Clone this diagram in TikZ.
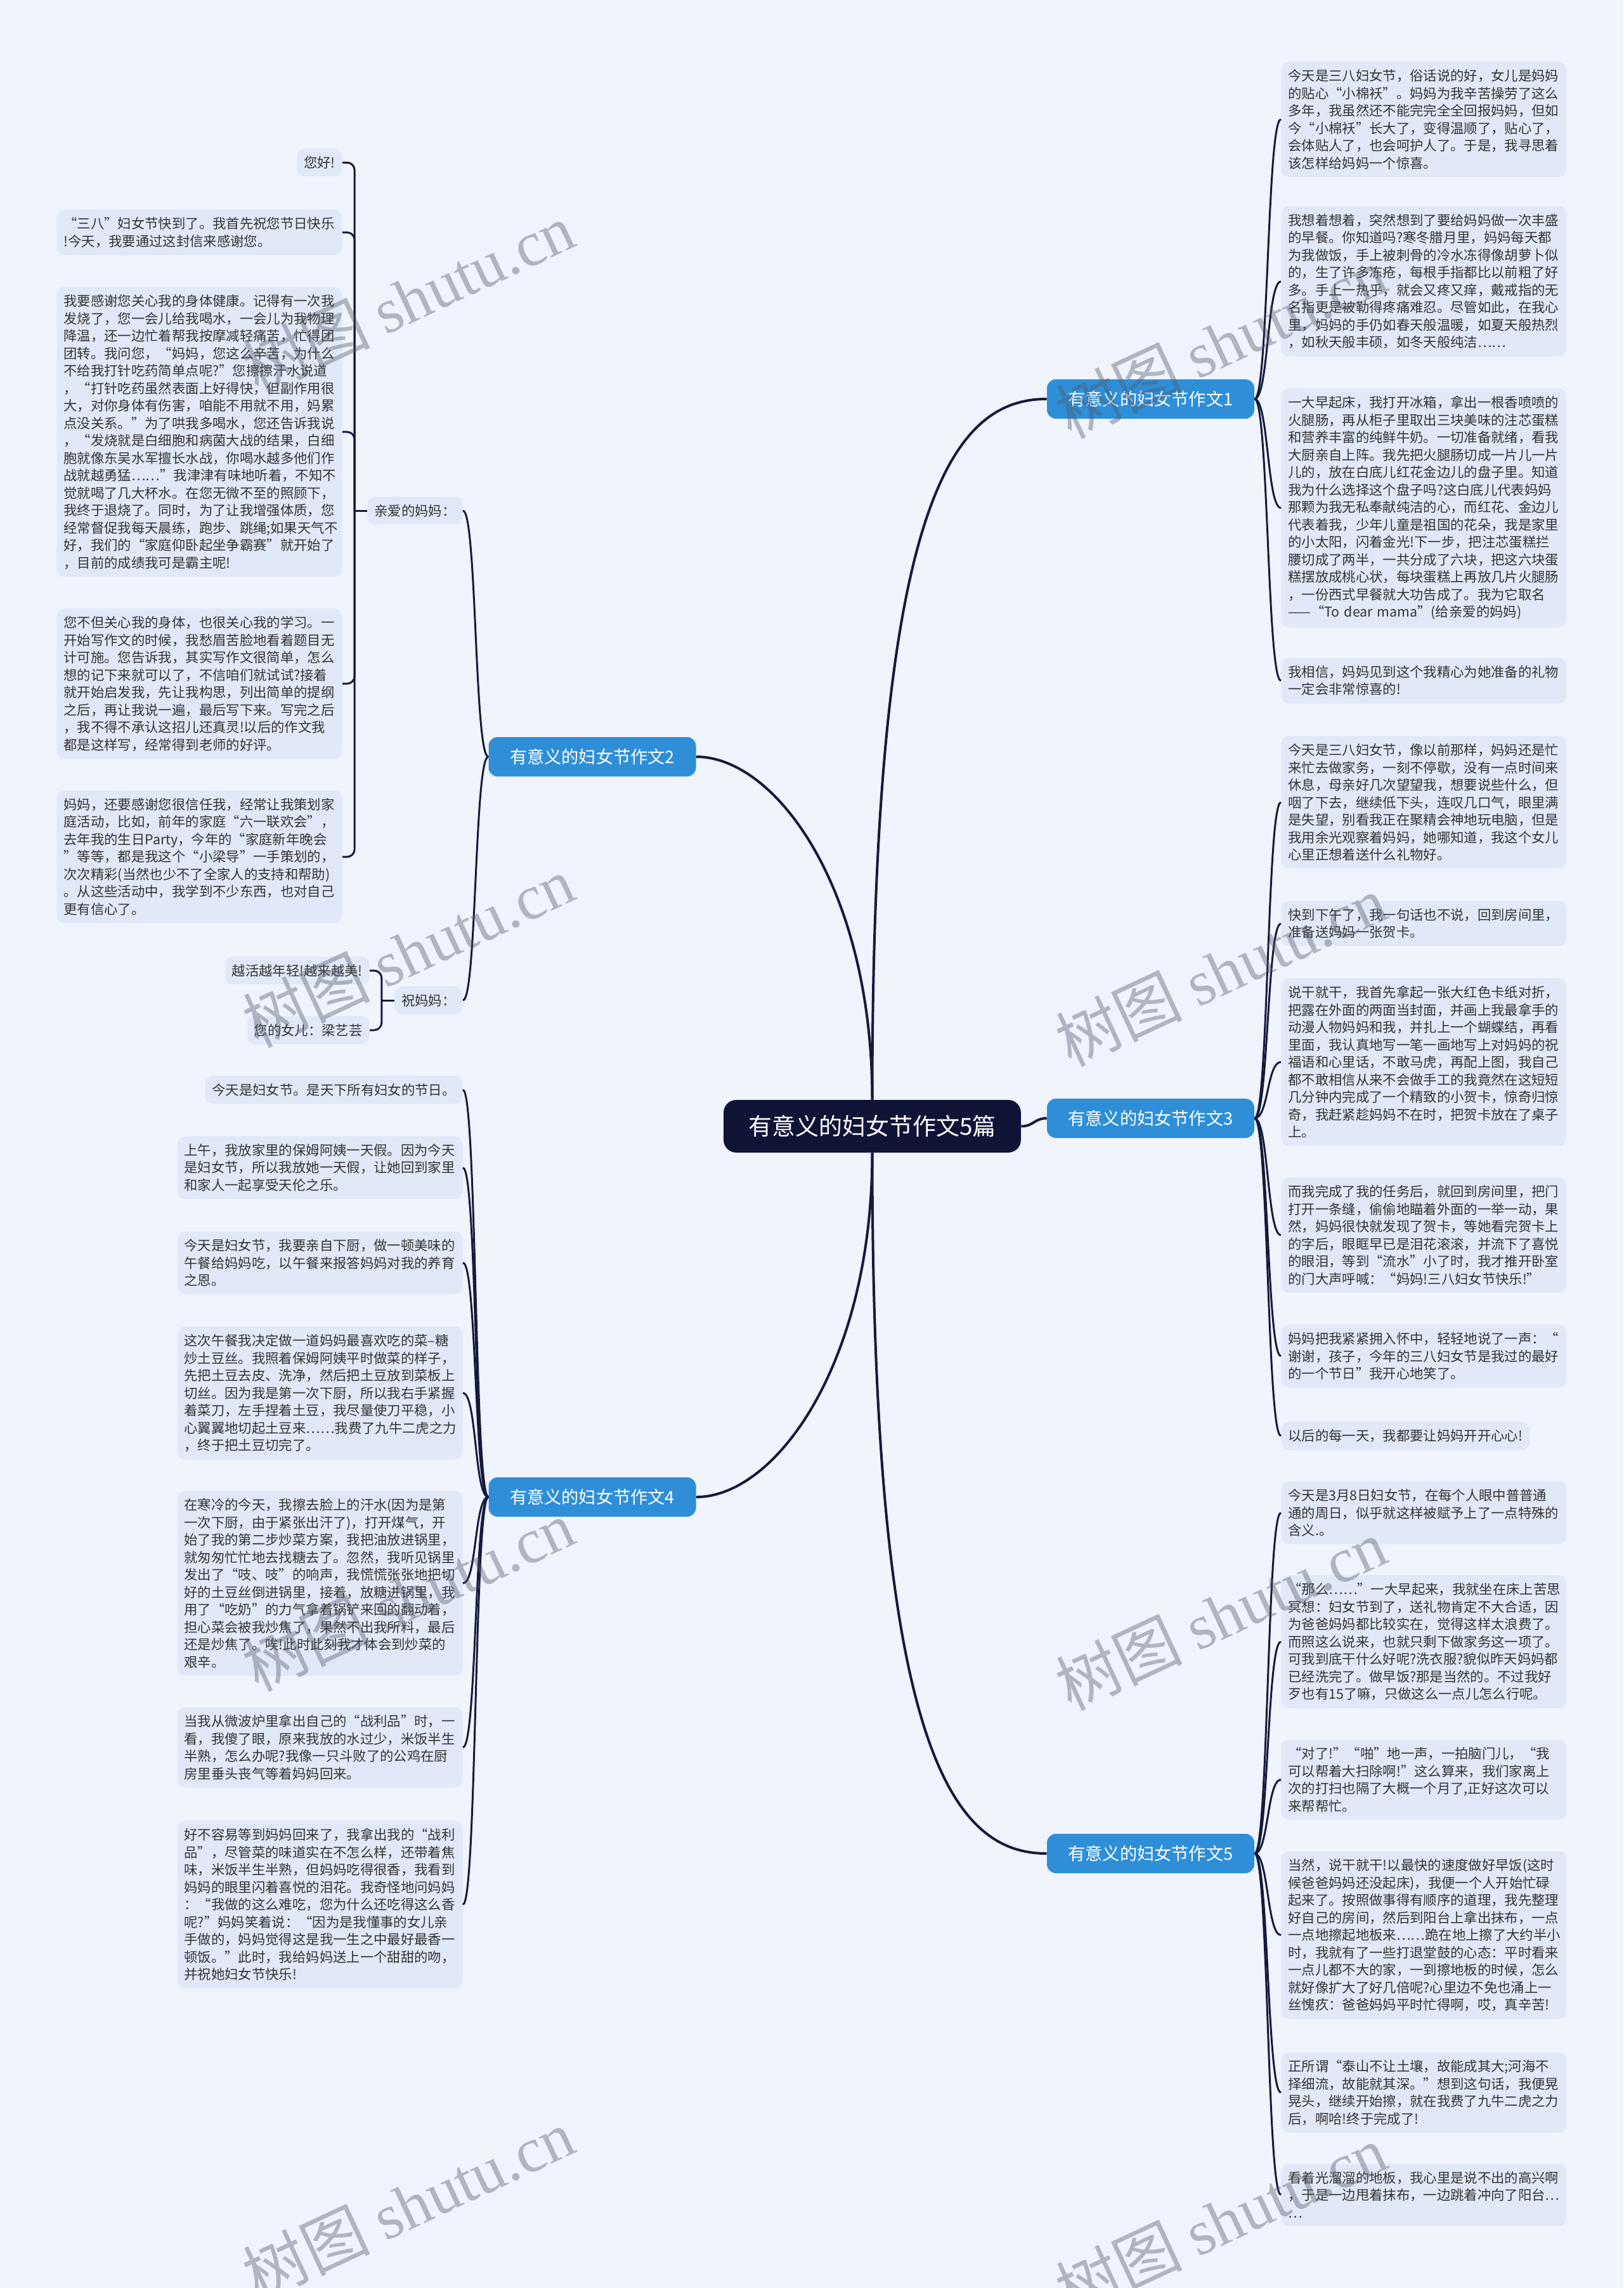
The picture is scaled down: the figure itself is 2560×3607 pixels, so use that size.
\documentclass[tikz,border=0pt]{standalone}
\usepackage{fontspec}
\setmainfont{Noto Sans CJK SC}
\newfontfamily\wmserif{Liberation Serif}
\definecolor{bgc}{HTML}{EFF4FD}
\definecolor{leafc}{HTML}{E1E9F8}
\definecolor{brc}{HTML}{2E8FD8}
\definecolor{rootc}{HTML}{0F1437}
\definecolor{linec}{HTML}{161A3C}
\definecolor{txtc}{HTML}{333333}
\definecolor{wmc}{HTML}{535868}
\tikzset{
  leaf/.style={fill=leafc, text=txtc, rounded corners=6pt, inner xsep=5.5pt, inner ysep=6pt, font=\fontsize{10.67}{13.75}\selectfont},
  para/.style={leaf, text width=214pt, align=left},
  branch/.style={fill=brc, text=white, rounded corners=7pt, minimum width=163.5pt, minimum height=31pt, inner sep=0pt, font=\fontsize{13.6}{16}\selectfont},
  root/.style={fill=rootc, text=white, rounded corners=10pt, minimum width=234.5pt, minimum height=41.5pt, inner sep=0pt, font=\fontsize{18.5}{22}\selectfont},
  conn/.style={draw=linec, line width=1.5pt},
  mainconn/.style={draw=linec, line width=2pt},
  wm/.style={text=wmc, opacity=0.4, rotate=25, font=\fontsize{50}{60}\selectfont}
}
\begin{document}
\begin{tikzpicture}[x=0.5pt, y=-0.5pt]
\useasboundingbox (0,0) rectangle (2560,3607);
\fill[bgc] (0,0) rectangle (2560,3607);

% root and branches
\node[root] (c) at (1375.5,1775.5) {有意义的妇女节作文5篇};
\node[branch] (b1) at (1814.5,629) {有意义的妇女节作文1};
\node[branch] (b3) at (1814.5,1763) {有意义的妇女节作文3};
\node[branch] (b5) at (1814.5,2922) {有意义的妇女节作文5};
\node[branch] (b2) at (934,1193) {有意义的妇女节作文2};
\node[branch] (b4) at (934,2360) {有意义的妇女节作文4};

% branch 1 leaves
\node[para, anchor=north west] (r1a) at (2020,97) {今天是三八妇女节，俗话说的好，女儿是妈妈\\的贴心“小棉袄”。妈妈为我辛苦操劳了这么\\多年，我虽然还不能完完全全回报妈妈，但如\\今“小棉袄”长大了，变得温顺了，贴心了，\\会体贴人了，也会呵护人了。于是，我寻思着\\该怎样给妈妈一个惊喜。};
\node[para, anchor=north west] (r1b) at (2020,325) {我想着想着，突然想到了要给妈妈做一次丰盛\\的早餐。你知道吗?寒冬腊月里，妈妈每天都\\为我做饭，手上被刺骨的冷水冻得像胡萝卜似\\的，生了许多冻疮，每根手指都比以前粗了好\\多。手上一热乎，就会又疼又痒，戴戒指的无\\名指更是被勒得疼痛难忍。尽管如此，在我心\\里，妈妈的手仍如春天般温暖，如夏天般热烈\\，如秋天般丰硕，如冬天般纯洁……};
\node[para, anchor=north west] (r1c) at (2020,612) {一大早起床，我打开冰箱，拿出一根香喷喷的\\火腿肠，再从柜子里取出三块美味的注芯蛋糕\\和营养丰富的纯鲜牛奶。一切准备就绪，看我\\大厨亲自上阵。我先把火腿肠切成一片儿一片\\儿的，放在白底儿红花金边儿的盘子里。知道\\我为什么选择这个盘子吗?这白底儿代表妈妈\\那颗为我无私奉献纯洁的心，而红花、金边儿\\代表着我，少年儿童是祖国的花朵，我是家里\\的小太阳，闪着金光!下一步，把注芯蛋糕拦\\腰切成了两半，一共分成了六块，把这六块蛋\\糕摆放成桃心状，每块蛋糕上再放几片火腿肠\\，一份西式早餐就大功告成了。我为它取名\\——“To dear mama”(给亲爱的妈妈)};
\node[para, anchor=north west] (r1d) at (2020,1037) {我相信，妈妈见到这个我精心为她准备的礼物\\一定会非常惊喜的!};

% branch 3 leaves
\node[para, anchor=north west] (r3a) at (2020,1160) {今天是三八妇女节，像以前那样，妈妈还是忙\\来忙去做家务，一刻不停歇，没有一点时间来\\休息，母亲好几次望望我，想要说些什么，但\\咽了下去，继续低下头，连叹几口气，眼里满\\是失望，别看我正在聚精会神地玩电脑，但是\\我用余光观察着妈妈，她哪知道，我这个女儿\\心里正想着送什么礼物好。};
\node[para, anchor=north west] (r3b) at (2020,1420) {快到下午了，我一句话也不说，回到房间里，\\准备送妈妈一张贺卡。};
\node[para, anchor=north west] (r3c) at (2020,1542) {说干就干，我首先拿起一张大红色卡纸对折，\\把露在外面的两面当封面，并画上我最拿手的\\动漫人物妈妈和我，并扎上一个蝴蝶结，再看\\里面，我认真地写一笔一画地写上对妈妈的祝\\福语和心里话，不敢马虎，再配上图，我自己\\都不敢相信从来不会做手工的我竟然在这短短\\几分钟内完成了一个精致的小贺卡，惊奇归惊\\奇，我赶紧趁妈妈不在时，把贺卡放在了桌子\\上。};
\node[para, anchor=north west] (r3d) at (2020,1856) {而我完成了我的任务后，就回到房间里，把门\\打开一条缝，偷偷地瞄着外面的一举一动，果\\然，妈妈很快就发现了贺卡，等她看完贺卡上\\的字后，眼眶早已是泪花滚滚，并流下了喜悦\\的眼泪，等到“流水”小了时，我才推开卧室\\的门大声呼喊：“妈妈!三八妇女节快乐!”};
\node[para, anchor=north west] (r3e) at (2020,2088) {妈妈把我紧紧拥入怀中，轻轻地说了一声：“\\谢谢，孩子，今年的三八妇女节是我过的最好\\的一个节日”我开心地笑了。};
\node[leaf, anchor=north west] (r3f) at (2020,2241) {以后的每一天，我都要让妈妈开开心心!};

% branch 5 leaves
\node[para, anchor=north west] (r5a) at (2020,2335) {今天是3月8日妇女节，在每个人眼中普普通\\通的周日，似乎就这样被赋予上了一点特殊的\\含义.。};
\node[para, anchor=north west] (r5b) at (2020,2483) {“那么……”一大早起来，我就坐在床上苦思\\冥想：妇女节到了，送礼物肯定不大合适，因\\为爸爸妈妈都比较实在，觉得这样太浪费了。\\而照这么说来，也就只剩下做家务这一项了。\\可我到底干什么好呢?洗衣服?貌似昨天妈妈都\\已经洗完了。做早饭?那是当然的。不过我好\\歹也有15了嘛，只做这么一点儿怎么行呢。};
\node[para, anchor=north west] (r5c) at (2020,2742) {“对了!”“啪”地一声，一拍脑门儿，“我\\可以帮着大扫除啊!”这么算来，我们家离上\\次的打扫也隔了大概一个月了,正好这次可以\\来帮帮忙。};
\node[para, anchor=north west] (r5d) at (2020,2918) {当然，说干就干!以最快的速度做好早饭(这时\\候爸爸妈妈还没起床)，我便一个人开始忙碌\\起来了。按照做事得有顺序的道理，我先整理\\好自己的房间，然后到阳台上拿出抹布，一点\\一点地擦起地板来……跪在地上擦了大约半小\\时，我就有了一些打退堂鼓的心态：平时看来\\一点儿都不大的家，一到擦地板的时候，怎么\\就好像扩大了好几倍呢?心里边不免也涌上一\\丝愧疚：爸爸妈妈平时忙得啊，哎，真辛苦!};
\node[para, anchor=north west] (r5e) at (2020,3235) {正所谓“泰山不让土壤，故能成其大;河海不\\择细流，故能就其深。”想到这句话，我便晃\\晃头，继续开始擦，就在我费了九牛二虎之力\\后，啊哈!终于完成了!};
\node[para, anchor=north west] (r5f) at (2020,3411) {看着光溜溜的地板，我心里是说不出的高兴啊\\，于是一边甩着抹布，一边跳着冲向了阳台…\\…};

% branch 2 subtree
\node[leaf, anchor=east] (qin) at (730,805) {亲爱的妈妈：};
\node[leaf, anchor=east] (zhu) at (730,1577) {祝妈妈：};
\node[leaf, anchor=north east] (l1) at (540,234) {您好!};
\node[para, anchor=north east] (l2) at (540,330) {“三八”妇女节快到了。我首先祝您节日快乐\\!今天，我要通过这封信来感谢您。};
\node[para, anchor=north east] (l3) at (540,452) {我要感谢您关心我的身体健康。记得有一次我\\发烧了，您一会儿给我喝水，一会儿为我物理\\降温，还一边忙着帮我按摩减轻痛苦，忙得团\\团转。我问您，“妈妈，您这么辛苦，为什么\\不给我打针吃药简单点呢?”您擦擦汗水说道\\，“打针吃药虽然表面上好得快，但副作用很\\大，对你身体有伤害，咱能不用就不用，妈累\\点没关系。”为了哄我多喝水，您还告诉我说\\，“发烧就是白细胞和病菌大战的结果，白细\\胞就像东吴水军擅长水战，你喝水越多他们作\\战就越勇猛……”我津津有味地听着，不知不\\觉就喝了几大杯水。在您无微不至的照顾下，\\我终于退烧了。同时，为了让我增强体质，您\\经常督促我每天晨练，跑步、跳绳;如果天气不\\好，我们的“家庭仰卧起坐争霸赛”就开始了\\，目前的成绩我可是霸主呢!};
\node[para, anchor=north east] (l4) at (540,959) {您不但关心我的身体，也很关心我的学习。一\\开始写作文的时候，我愁眉苦脸地看着题目无\\计可施。您告诉我，其实写作文很简单，怎么\\想的记下来就可以了，不信咱们就试试?接着\\就开始启发我，先让我构思，列出简单的提纲\\之后，再让我说一遍，最后写下来。写完之后\\，我不得不承认这招儿还真灵!以后的作文我\\都是这样写，经常得到老师的好评。};
\node[para, anchor=north east] (l5) at (540,1246) {妈妈，还要感谢您很信任我，经常让我策划家\\庭活动，比如，前年的家庭“六一联欢会”，\\去年我的生日Party，今年的“家庭新年晚会\\”等等，都是我这个“小梁导”一手策划的，\\次次精彩(当然也少不了全家人的支持和帮助)\\。从这些活动中，我学到不少东西，也对自己\\更有信心了。};
\node[leaf, anchor=east] (z1) at (583,1530) {越活越年轻!越来越美!};
\node[leaf, anchor=east] (z2) at (583,1624) {您的女儿：梁艺芸};

% branch 4 leaves
\node[leaf, anchor=east] (m1) at (730,1718) {今天是妇女节。是天下所有妇女的节日。};
\node[para, anchor=north east] (m2) at (730,1791) {上午，我放家里的保姆阿姨一天假。因为今天\\是妇女节，所以我放她一天假，让她回到家里\\和家人一起享受天伦之乐。};
\node[para, anchor=north east] (m3) at (730,1941) {今天是妇女节，我要亲自下厨，做一顿美味的\\午餐给妈妈吃，以午餐来报答妈妈对我的养育\\之恩。};
\node[para, anchor=north east] (m4) at (730,2091) {这次午餐我决定做一道妈妈最喜欢吃的菜--糖\\炒土豆丝。我照着保姆阿姨平时做菜的样子，\\先把土豆去皮、洗净，然后把土豆放到菜板上\\切丝。因为我是第一次下厨，所以我右手紧握\\着菜刀，左手捏着土豆，我尽量使刀平稳，小\\心翼翼地切起土豆来……我费了九牛二虎之力\\，终于把土豆切完了。};
\node[para, anchor=north east] (m5) at (730,2350) {在寒冷的今天，我擦去脸上的汗水(因为是第\\一次下厨，由于紧张出汗了)，打开煤气，开\\始了我的第二步炒菜方案，我把油放进锅里，\\就匆匆忙忙地去找糖去了。忽然，我听见锅里\\发出了“吱、吱”的响声，我慌慌张张地把切\\好的土豆丝倒进锅里，接着，放糖进锅里，我\\用了“吃奶”的力气拿着锅铲来回的翻动着，\\担心菜会被我炒焦了，果然不出我所料，最后\\还是炒焦了。唉!此时此刻我才体会到炒菜的\\艰辛。};
\node[para, anchor=north east] (m6) at (730,2691) {当我从微波炉里拿出自己的“战利品”时，一\\看，我傻了眼，原来我放的水过少，米饭半生\\半熟，怎么办呢?我像一只斗败了的公鸡在厨\\房里垂头丧气等着妈妈回来。};
\node[para, anchor=north east] (m7) at (730,2870) {好不容易等到妈妈回来了，我拿出我的“战利\\品”，尽管菜的味道实在不怎么样，还带着焦\\味，米饭半生半熟，但妈妈吃得很香，我看到\\妈妈的眼里闪着喜悦的泪花。我奇怪地问妈妈\\：“我做的这么难吃，您为什么还吃得这么香\\呢?”妈妈笑着说：“因为是我懂事的女儿亲\\手做的，妈妈觉得这是我一生之中最好最香一\\顿饭。”此时，我给妈妈送上一个甜甜的吻，\\并祝她妇女节快乐!};

% connectors: root to branches
\draw[mainconn] (c.north) .. controls +(0,-934) and +(-151,0) .. (b1.west);
\draw[mainconn] (c.east) .. controls +(20,0) and +(-20,0) .. (b3.west);
\draw[mainconn] (c.south) .. controls +(0,933) and +(-151,0) .. (b5.west);
\draw[mainconn] (c.north) .. controls +(0,-334) and +(125,0) .. (b2.east);
\draw[mainconn] (c.south) .. controls +(0,333) and +(125,0) .. (b4.east);

% right side leaves
\foreach \t in {r1a,r1b,r1c,r1d}
  \draw[conn] (b1.east) .. controls +(22,0) and +(-22,0) .. (\t.west);
\foreach \t in {r3a,r3b,r3c,r3d,r3e,r3f}
  \draw[conn] (b3.east) .. controls +(22,0) and +(-22,0) .. (\t.west);
\foreach \t in {r5a,r5b,r5c,r5d,r5e,r5f}
  \draw[conn] (b5.east) .. controls +(22,0) and +(-22,0) .. (\t.west);

% left side
\foreach \t in {qin,zhu}
  \draw[conn] (b2.west) .. controls +(-22,0) and +(22,0) .. (\t.east);
\foreach \t in {m1,m2,m3,m4,m5,m6,m7}
  \draw[conn] (b4.west) .. controls +(-22,0) and +(22,0) .. (\t.east);
\draw[conn] (qin.west) -- ++(-20,0) coordinate (qj);
\foreach \t in {l1,l2,l3,l4,l5}
  \draw[conn, rounded corners=6pt] (qj) |- (\t.east);
\draw[conn] (zhu.west) -- ++(-20,0) coordinate (zj);
\foreach \t in {z1,z2}
  \draw[conn, rounded corners=6pt] (zj) |- (\t.east);

% watermarks
\node[wm] (w1) at (644,470) {树图 {\wmserif shutu.cn}};
\node[wm] (w2) at (1925,540) {树图 {\wmserif shutu.cn}};
\node[wm] (w3) at (644,1500) {树图 {\wmserif shutu.cn}};
\node[wm] (w4) at (1925,1530) {树图 {\wmserif shutu.cn}};
\node[wm] (w5) at (644,2515) {树图 {\wmserif shutu.cn}};
\node[wm] (w6) at (1925,2545) {树图 {\wmserif shutu.cn}};
\node[wm] (w7) at (644,3475) {树图 {\wmserif shutu.cn}};
\node[wm] (w8) at (1925,3500) {树图 {\wmserif shutu.cn}};
\end{tikzpicture}
\end{document}
